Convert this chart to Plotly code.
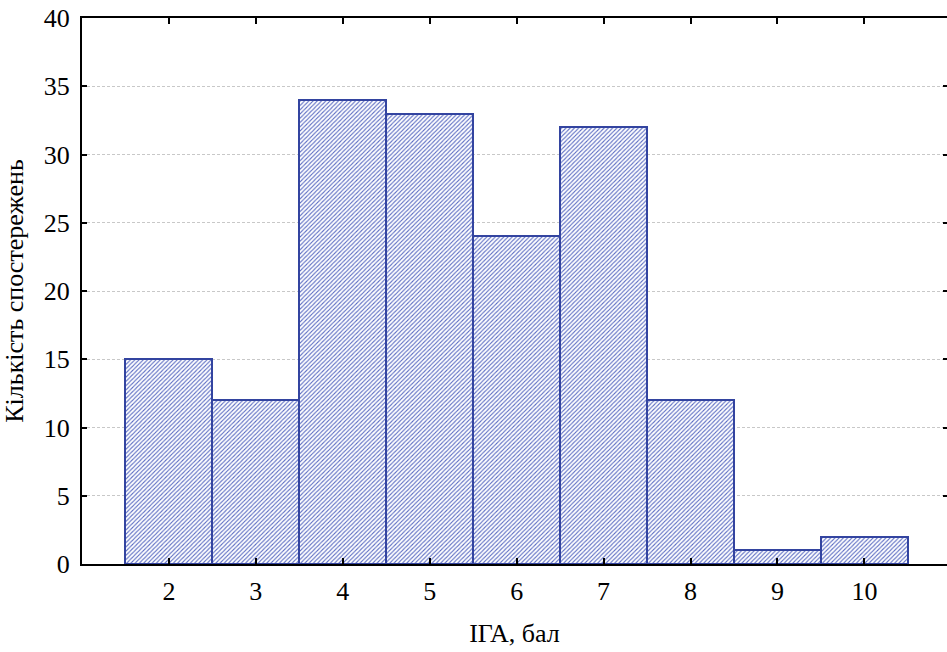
import plotly.graph_objects as go

categories = [2, 3, 4, 5, 6, 7, 8, 9, 10]
counts = [15, 12, 34, 33, 24, 32, 12, 1, 2]
y_ticks = [0, 5, 10, 15, 20, 25, 30, 35, 40]
x_title = "ІГА, бал"
y_title = "Кількість спостережень"

font_family = "'Liberation Serif', 'Times New Roman', serif"

fig = go.Figure()
fig.add_trace(go.Bar(
    x=categories, y=counts, width=1,
    marker=dict(
        color="white",
        line=dict(color="#3344a0", width=2),
        pattern=dict(shape="/", fgcolor="#5a6bc2", bgcolor="white", size=3, solidity=0.35, fillmode="replace"),
    ),
    showlegend=False,
))
# invisible trace for right-side ticks
fig.add_trace(go.Scatter(x=[categories[0]], y=[0], yaxis="y2", mode="markers",
                         marker=dict(opacity=0), showlegend=False, hoverinfo="skip"))

fig.update_layout(
    width=947, height=652,
    margin=dict(l=82, r=0, t=18, b=88, autoexpand=False),
    paper_bgcolor="white", plot_bgcolor="white",
    font=dict(family=font_family, size=26, color="black"),
    bargap=0,
    xaxis=dict(
        range=[1, 10.95], tickmode="array", tickvals=categories, ticktext=[str(c) for c in categories],
        showline=True, linecolor="black", linewidth=2, mirror="ticks",
        ticks="inside", ticklen=6, tickwidth=2, tickcolor="black",
        showgrid=False, zeroline=False, automargin=False, ticklabelstandoff=3,
        title=dict(text=x_title, standoff=19, font=dict(size=26)),
        tickfont=dict(size=26),
    ),
    yaxis=dict(
        range=[0, 40], tickmode="array", tickvals=y_ticks,
        showline=True, linecolor="black", linewidth=2,
        ticks="inside", ticklen=5, tickwidth=2, tickcolor="black",
        showgrid=True, gridcolor="#c8c8c8", gridwidth=1, griddash="3px,2px",
        zeroline=False, automargin=False, ticklabelstandoff=5,
        ticklabeloverflow="allow",
        title=dict(text=y_title, standoff=15, font=dict(size=26)),
        tickfont=dict(size=26),
    ),
    yaxis2=dict(
        range=[0, 40], overlaying="y", side="right", tickmode="array", tickvals=y_ticks,
        showticklabels=False, showline=False, showgrid=False, zeroline=False,
        ticks="inside", ticklen=4, tickwidth=2, tickcolor="black",
    ),
)

fig.write_html("out.html", config={"displayModeBar": False},
               post_script="document.body.style.margin='0';")
